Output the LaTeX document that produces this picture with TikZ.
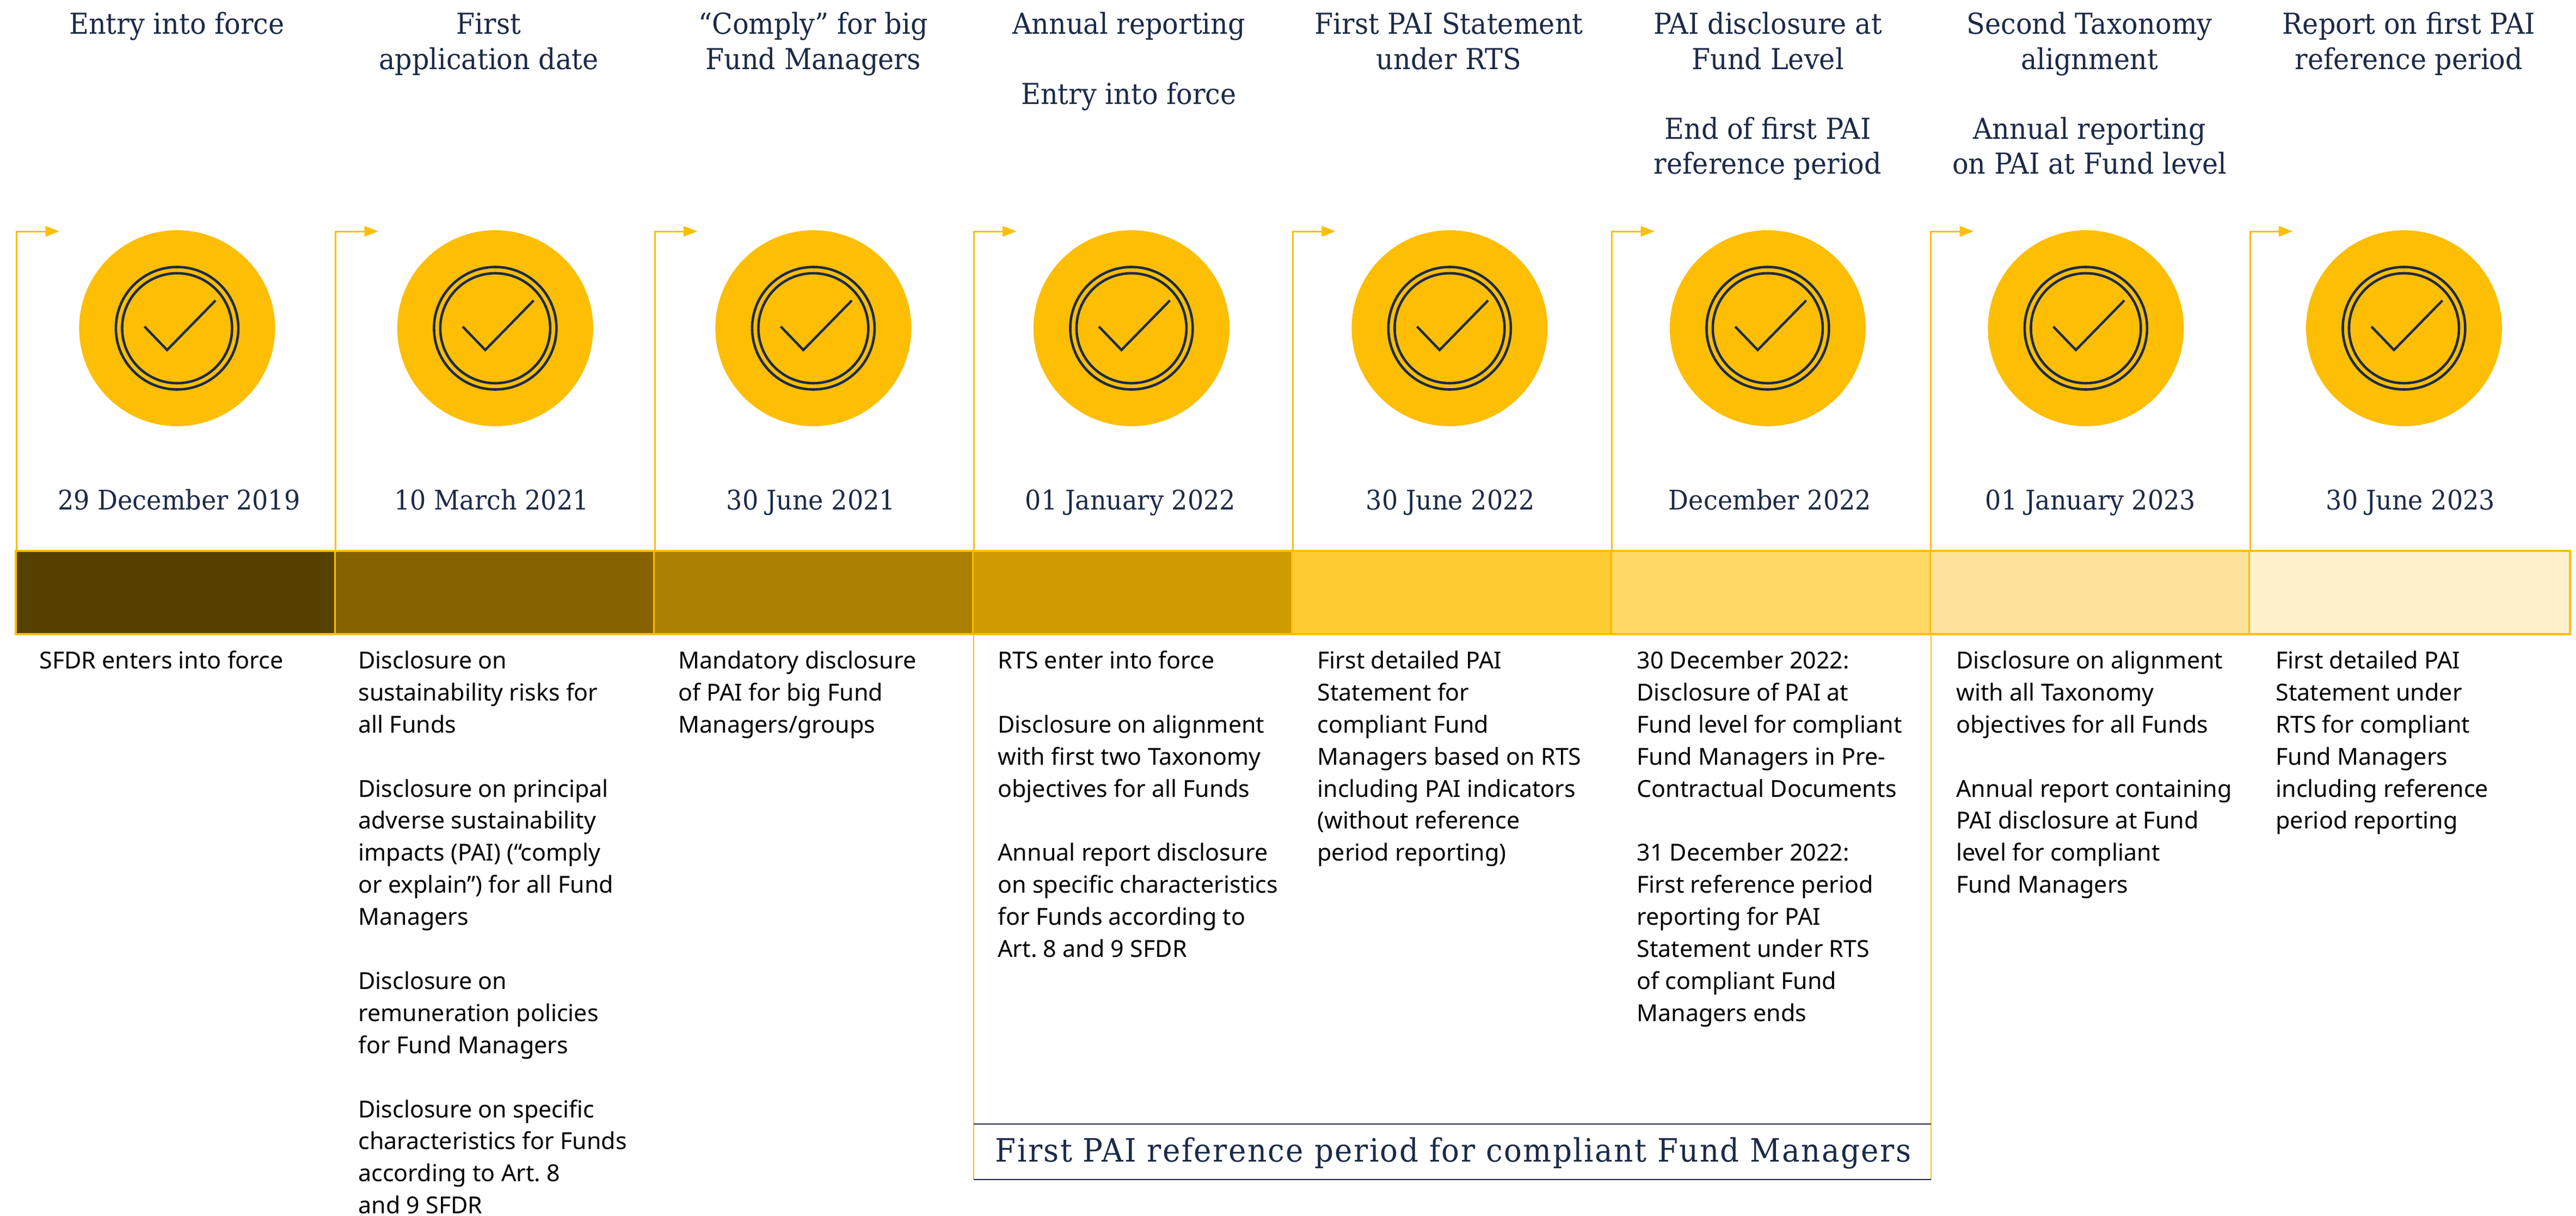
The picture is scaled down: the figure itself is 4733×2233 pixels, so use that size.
\documentclass[tikz,border=0pt]{standalone}
\usepackage{fontspec}
\setmainfont{Noto Sans}
\newfontfamily\serifx[FakeStretch=0.93]{DejaVu Serif}
\newfontfamily\serifw[FakeStretch=0.93,LetterSpace=4]{DejaVu Serif}
\usetikzlibrary{arrows.meta}
\definecolor{gold}{HTML}{FDBE03}
\definecolor{navy}{HTML}{1B2A47}
\definecolor{segA}{HTML}{574100}
\definecolor{segB}{HTML}{866300}
\definecolor{segC}{HTML}{AB7F00}
\definecolor{segD}{HTML}{D09B00}
\definecolor{segE}{HTML}{FFCB33}
\definecolor{segF}{HTML}{FFD966}
\definecolor{segG}{HTML}{FFE299}
\definecolor{segH}{HTML}{FFF1CC}
\tikzset{
  barseg/.style={draw=gold,line width=1.6pt,anchor=north west,minimum height=76.5pt,inner sep=0pt,outer sep=0pt},
  disc/.style={circle,fill=gold,minimum size=180pt,inner sep=0pt,outer sep=0pt},
  ringA/.style={circle,draw=navy,line width=2.3pt,minimum size=112.5pt,inner sep=0pt,outer sep=0pt},
  ringB/.style={circle,draw=navy,line width=2.3pt,minimum size=101pt,inner sep=0pt,outer sep=0pt},
  tick/.style={draw=navy,line width=2.2pt},
  elbow/.style={draw=gold,line width=1.5pt,-{Triangle[length=12.75pt,width=9.5pt]}},
  headline/.style={align=center,anchor=north,inner sep=0pt,text=navy,font=\serifx\fontsize{26.5}{32.15}\selectfont},
  datelab/.style={anchor=base,inner sep=0pt,text=navy,font=\serifx\fontsize{24.8}{32}\selectfont},
  bodytext/.style={align=left,anchor=north west,inner sep=0pt,text=black,font=\frenchspacing\fontsize{21.5}{29.45}\selectfont},
}
\begin{document}
\begin{tikzpicture}[x=0.5pt,y=-0.5pt]
\useasboundingbox (0,0) rectangle (4733,2233);
% bar
\foreach \i/\c/\w in {0/segA/293.1pt,1/segB/293.1pt,2/segC/293.1pt,3/segD/293.1pt,4/segE/293.1pt,5/segF/293.1pt,6/segG/293.1pt,7/segH/294.8pt}{
  \node[barseg,fill=\c,minimum width=\w] (seg\i) at ({29+586.2*\i},1012) {};
  \coordinate (base\i) at ({30.7+586.2*\i},1012);
  \coordinate (corner\i) at ({30.7+586.2*\i},425);
  \coordinate (tip\i) at ({109+586.2*\i},425);
  \draw[elbow] (base\i) -- (corner\i) -- (tip\i);
  \node[disc] (disc\i) at ({325.4+584.5*\i},603) {};
  \node[ringA] (ra\i) at (disc\i) {};
  \node[ringB] (rb\i) at (disc\i) {};
  \coordinate (ck\i) at ({307+584.5*\i},643);
  \draw[tick] ({265.6+584.5*\i},600) -- (ck\i) -- ({396+584.5*\i},552);
}
% headings
\node[headline] (h0) at (325,17.3) {\strut Entry into force};
\node[headline] (h1) at (898,17.3) {\strut First\\application date};
\node[headline] (h2) at (1494,17.3) {\strut “Comply” for big\\Fund Managers};
\node[headline] (h3) at (2074,17.3) {\strut Annual reporting\\[32.15pt]Entry into force};
\node[headline] (h4) at (2662,17.3) {\strut First PAI Statement\\under RTS};
\node[headline] (h5) at (3248,17.3) {\strut PAI disclosure at\\Fund Level\\[32.15pt]End of first PAI\\reference period};
\node[headline] (h6) at (3839,17.3) {\strut Second Taxonomy\\alignment\\[32.15pt]Annual reporting\\on PAI at Fund level};
\node[headline] (h7) at (4426,17.3) {\strut Report on first PAI\\reference period};
% dates
\node[datelab] (d0) at (329,936) {29 December 2019};
\node[datelab] (d1) at (903,936) {10 March 2021};
\node[datelab] (d2) at (1490,936) {30 June 2021};
\node[datelab] (d3) at (2077,936) {01 January 2022};
\node[datelab] (d4) at (2665,936) {30 June 2022};
\node[datelab] (d5) at (3252,936) {December 2022};
\node[datelab] (d6) at (3841,936) {01 January 2023};
\node[datelab] (d7) at (4429,936) {30 June 2023};
% body
\node[bodytext] (b0) at (72,1186.8) {\strut SFDR enters into force};
\node[bodytext] (b1) at (658,1186.8) {\strut Disclosure on\\sustainability risks for\\all Funds\\[29.45pt]Disclosure on principal\\adverse sustainability\\impacts (PAI) (“comply\\or explain”) for all Fund\\Managers\\[29.45pt]Disclosure on\\remuneration policies\\for Fund Managers\\[29.45pt]Disclosure on specific\\characteristics for Funds\\according to Art. 8\\and 9 SFDR};
\node[bodytext] (b2) at (1246,1186.8) {\strut Mandatory disclosure\\of PAI for big Fund\\Managers/groups};
\node[bodytext] (b3) at (1833,1186.8) {\strut RTS enter into force\\[29.45pt]Disclosure on alignment\\with first two Taxonomy\\objectives for all Funds\\[29.45pt]Annual report disclosure\\on specific characteristics\\for Funds according to\\Art. 8 and 9 SFDR};
\node[bodytext] (b4) at (2420,1186.8) {\strut First detailed PAI\\Statement for\\compliant Fund\\Managers based on RTS\\including PAI indicators\\(without reference\\period reporting)};
\node[bodytext] (b5) at (3007,1186.8) {\strut 30 December 2022:\\Disclosure of PAI at\\Fund level for compliant\\Fund Managers in Pre-\\Contractual Documents\\[29.45pt]31 December 2022:\\First reference period\\reporting for PAI\\Statement under RTS\\of compliant Fund\\Managers ends};
\node[bodytext] (b6) at (3594,1186.8) {\strut Disclosure on alignment\\with all Taxonomy\\objectives for all Funds\\[29.45pt]Annual report containing\\PAI disclosure at Fund\\level for compliant\\Fund Managers};
\node[bodytext] (b7) at (4181,1186.8) {\strut First detailed PAI\\Statement under\\RTS for compliant\\Fund Managers\\including reference\\period reporting};
% reference period
\coordinate (rpTL) at (1789.3,2065);
\coordinate (rpTR) at (3548,2065);
\coordinate (rpBL) at (1789.3,2167);
\coordinate (rpBR) at (3548,2167);
\coordinate (rpUL) at (1789.3,1166);
\coordinate (rpUR) at (3548,1166);
\draw[gold,line width=1pt] (rpUL) -- (rpBL) (rpUR) -- (rpBR);
\draw[navy,line width=1pt] (rpTL) -- (rpTR) (rpBL) -- (rpBR);
\node[anchor=base,inner sep=0pt,text=navy,font=\serifw\fontsize{29.5}{32}\selectfont] (rp) at (2670,2134) {First PAI reference period for compliant Fund Managers};
\end{tikzpicture}
\end{document}
